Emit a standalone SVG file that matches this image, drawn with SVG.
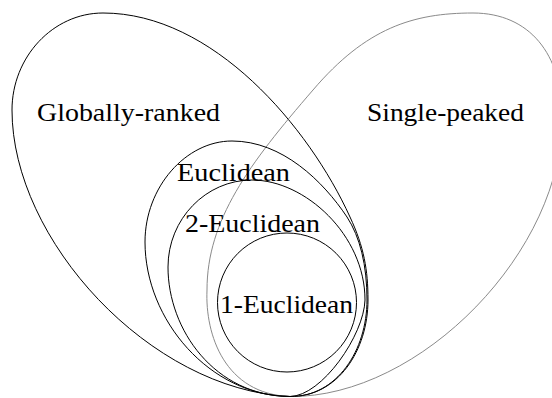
<svg xmlns="http://www.w3.org/2000/svg" width="552" height="398" viewBox="0 0 552 398">
<style>
.set{fill:none;stroke:#000;stroke-width:1}
.sp{fill:none;stroke:#8a8a8a;stroke-width:1}
.lbl{font-family:"Liberation Serif","Times New Roman",serif;font-size:26px;fill:#000}
</style>
<rect width="552" height="398" fill="#fff"/>
<g id="globally-ranked">
<path class="set" d="M290,396.5 C150,390 12,240 12,110 C12,57 53,13 103,13 C213,13 309,127 350,217 C364,247 368,270 368,300 C368,350 338,397 290,396.5"/>
<text class="lbl" x="37" y="120.5" textLength="183" lengthAdjust="spacingAndGlyphs">Globally-ranked</text>
</g>
<g id="single-peaked">
<path class="sp" d="M290,396.5 C225,394 205,335 207,290 C207,220 249,164 313,90 C366,28 413,13 473,13 C530,13 562,55 562,115 C565,250 420,398 290,396.5"/>
<text class="lbl" x="367" y="120.5" textLength="157" lengthAdjust="spacingAndGlyphs">Single-peaked</text>
</g>
<g id="euclidean">
<path class="set" d="M290,396.5 C210,396 145,320 145,242 C145,187 186,141 232,141 C282,141 323,181 347,217 C360,237 367,265 367,300 C367,350 337,397 290,396.5"/>
<text class="lbl" x="177" y="180.5" textLength="113" lengthAdjust="spacingAndGlyphs">Euclidean</text>
</g>
<g id="two-euclidean">
<path class="set" d="M290,396.5 C215,396 168,330 168,267 C168,219 206,180 252,180 C305,180 365,235 365,300 C364,335 322,396 290,396.5"/>
<text class="lbl" x="185" y="231.5" textLength="135" lengthAdjust="spacingAndGlyphs">2-Euclidean</text>
</g>
<g id="one-euclidean">
<circle class="set" cx="287" cy="302.5" r="69.5"/>
<text class="lbl" x="220" y="312.5" textLength="133" lengthAdjust="spacingAndGlyphs">1-Euclidean</text>
</g>
</svg>
